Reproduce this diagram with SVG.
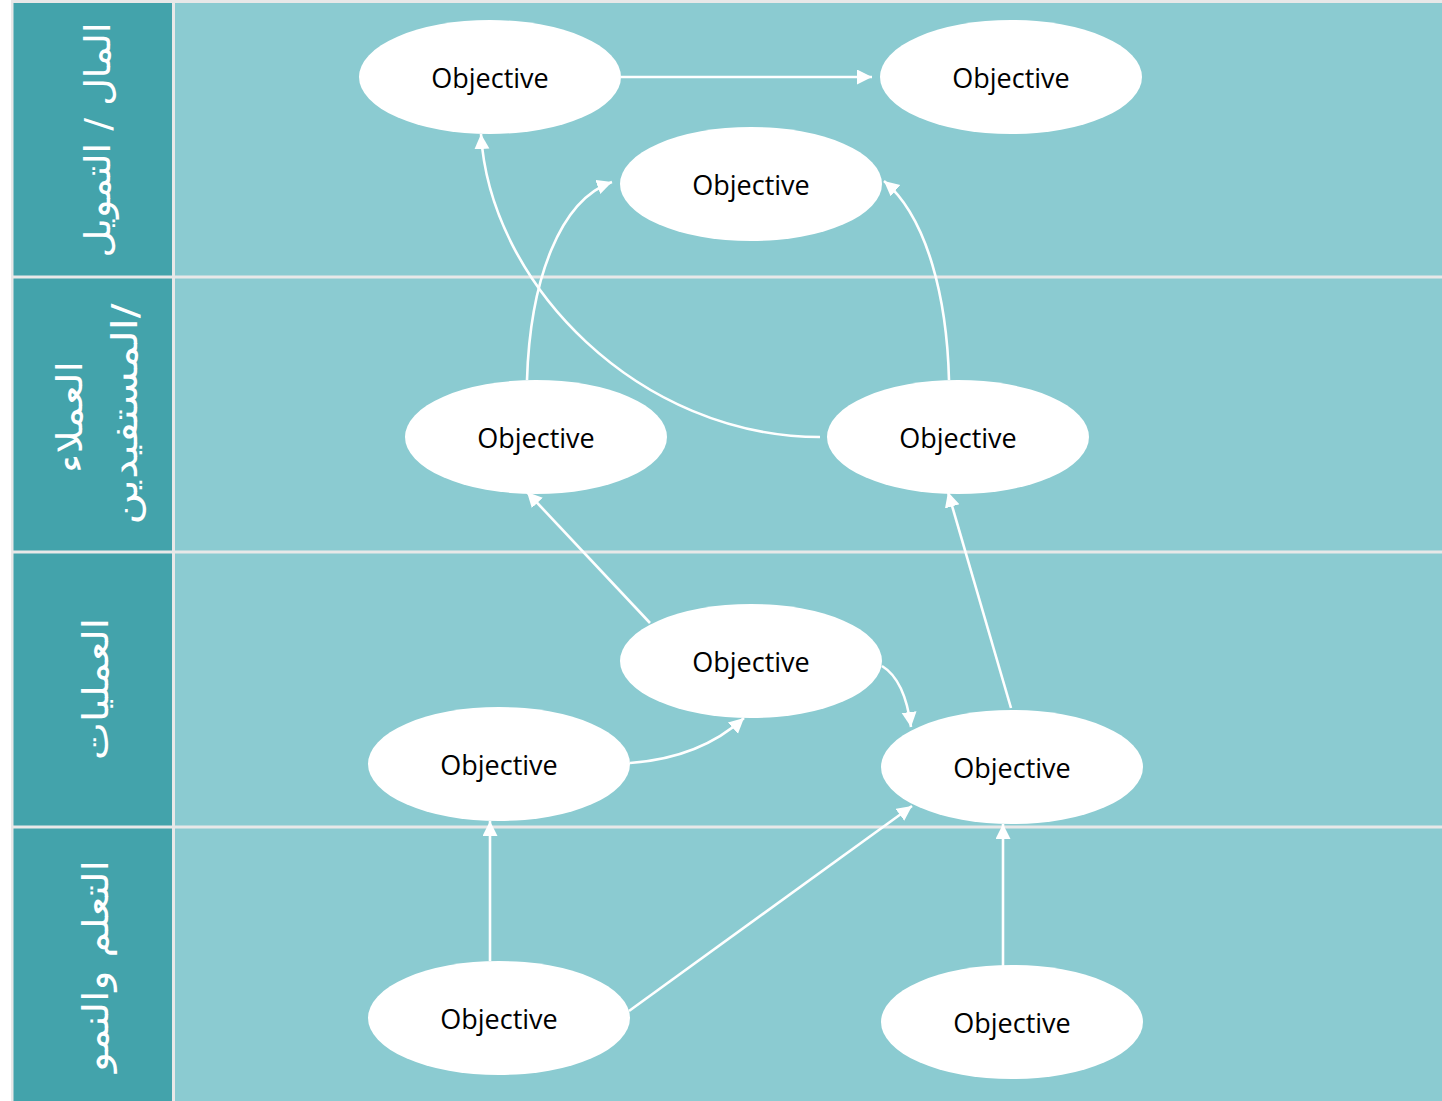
<svg xmlns="http://www.w3.org/2000/svg" width="1442" height="1101" viewBox="0 0 1442 1101">
<style>
.hdr{fill:#43A3AB}
.body{fill:#8BCBD1}
.node ellipse{fill:#FFFFFF}
.node text{font-family:"Open Sans","Noto Sans",sans-serif;font-size:27px;fill:#000000;text-anchor:middle}
.lane{font-family:"DejaVu Sans","Noto Sans",sans-serif;font-size:36px;fill:#FFFFFF;text-anchor:middle;direction:rtl}
.conn path{fill:none;stroke:#FFFFFF;stroke-width:2.6;marker-end:url(#arr)}
</style>
<defs>
<marker id="arr" markerUnits="userSpaceOnUse" markerWidth="16" markerHeight="16" refX="15" refY="7.5" orient="auto">
<path d="M0,0 L15,7.5 L0,15 z" fill="#FFFFFF"/>
</marker>
</defs>
<rect x="0" y="0" width="1442" height="1101" fill="#FFFFFF"/>
<rect x="11" y="0" width="1431" height="1101" fill="#E8E8E8"/>
<g id="lanes">
<rect class="hdr" x="13.5" y="3" width="158.5" height="272.5"/>
<rect class="body" x="175" y="3" width="1267" height="272.5"/>
<rect class="hdr" x="13.5" y="278.5" width="158.5" height="272"/>
<rect class="body" x="175" y="278.5" width="1267" height="272"/>
<rect class="hdr" x="13.5" y="553.5" width="158.5" height="272"/>
<rect class="body" x="175" y="553.5" width="1267" height="272"/>
<rect class="hdr" x="13.5" y="828.5" width="158.5" height="272.5"/>
<rect class="body" x="175" y="828.5" width="1267" height="272.5"/>
</g>
<g id="lane-labels">
<text class="lane" transform="translate(110,140) rotate(-90)" textLength="235" lengthAdjust="spacingAndGlyphs">المال / التمويل</text>
<text class="lane" transform="translate(82,417) rotate(-90)" textLength="112" lengthAdjust="spacingAndGlyphs">العملاء</text>
<text class="lane" transform="translate(137,414) rotate(-90)" textLength="221" lengthAdjust="spacingAndGlyphs">/المستفيدين</text>
<text class="lane" transform="translate(108,689) rotate(-90)" textLength="142" lengthAdjust="spacingAndGlyphs">العمليات</text>
<text class="lane" transform="translate(108,966) rotate(-90)" textLength="212" lengthAdjust="spacingAndGlyphs">التعلم والنمو</text>
</g>
<g id="connectors" class="conn">
<path d="M621,77 L872,77"/>
<path d="M490,961 L490,821"/>
<path d="M629,1011 L912,806"/>
<path d="M1003,966 L1003,824"/>
<path d="M630,763 Q700,758 744,718"/>
<path d="M882,666 Q905,680 911,727"/>
<path d="M650,623 L527,492"/>
<path d="M1011,708 L948,492"/>
<path d="M527,380 C530,280 560,200 612,182"/>
<path d="M949,380 C947,300 928,218 884,181"/>
<path d="M820,437 C640,437 490,285 481,134"/>
</g>
<g id="n1" class="node"><ellipse cx="490" cy="77" rx="131" ry="57"/><text x="490" y="88">Objective</text></g>
<g id="n2" class="node"><ellipse cx="1011" cy="77" rx="131" ry="57"/><text x="1011" y="88">Objective</text></g>
<g id="n3" class="node"><ellipse cx="751" cy="184" rx="131" ry="57"/><text x="751" y="195">Objective</text></g>
<g id="n4" class="node"><ellipse cx="536" cy="437" rx="131" ry="57"/><text x="536" y="448">Objective</text></g>
<g id="n5" class="node"><ellipse cx="958" cy="437" rx="131" ry="57"/><text x="958" y="448">Objective</text></g>
<g id="n6" class="node"><ellipse cx="751" cy="661" rx="131" ry="57"/><text x="751" y="672">Objective</text></g>
<g id="n7" class="node"><ellipse cx="499" cy="764" rx="131" ry="57"/><text x="499" y="775">Objective</text></g>
<g id="n8" class="node"><ellipse cx="1012" cy="767" rx="131" ry="57"/><text x="1012" y="778">Objective</text></g>
<g id="n9" class="node"><ellipse cx="499" cy="1018" rx="131" ry="57"/><text x="499" y="1029">Objective</text></g>
<g id="n10" class="node"><ellipse cx="1012" cy="1022" rx="131" ry="57"/><text x="1012" y="1033">Objective</text></g>
</svg>
